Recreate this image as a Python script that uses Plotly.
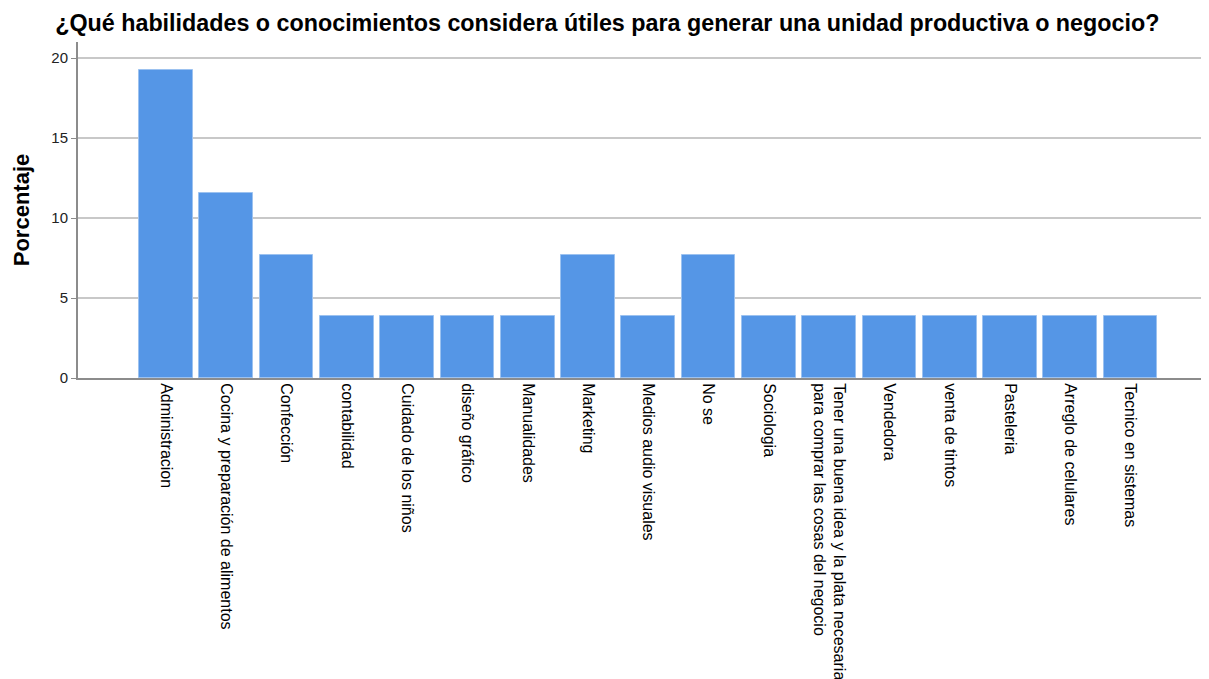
import plotly.graph_objects as go

categories = [
    "Administracion",
    "Cocina y preparación de alimentos",
    "Confección",
    "contabilidad",
    "Cuidado de los niños",
    "diseño gráfico",
    "Manualidades",
    "Marketing",
    "Medios audio visuales",
    "No se",
    "Sociologia",
    "Tener una buena idea y la plata necesaria<br>para comprar las cosas del negocio",
    "Vendedora",
    "venta de tintos",
    "Pasteleria",
    "Arreglo de celulares",
    "Tecnico en sistemas",
]
percentages = [19.23, 11.54, 7.69, 3.85, 3.85, 3.85, 3.85, 7.69, 3.85, 7.69,
               3.85, 3.85, 3.85, 3.85, 3.85, 3.85, 3.85]

fig = go.Figure()
fig.add_trace(go.Bar(
    x=list(range(len(categories))),
    y=percentages,
    width=0.89,
    marker=dict(color="#5596e6", line=dict(color="#9cc2f0", width=1)),
    hovertemplate="%{y:.2f}%<extra></extra>",
))

fig.update_layout(
    width=1210, height=671,
    margin=dict(l=70, r=0, t=34, b=301),
    plot_bgcolor="white", paper_bgcolor="white",
    font=dict(family="Liberation Sans, Arial, sans-serif", color="black"),
    title=dict(
        text="<b>¿Qué habilidades o conocimientos considera útiles para generar una unidad productiva o negocio?</b>",
        x=0.039, xanchor="left", y=0.978, yanchor="middle",
        font=dict(size=23.3, color="black"),
    ),
    showlegend=False,
    bargap=0,
)

fig.update_xaxes(
    tickmode="array",
    tickvals=list(range(len(categories))),
    ticktext=categories,
    tickangle=90,
    tickfont=dict(size=16, color="black"),
    range=[-1.46, 17.45],
    showline=True, linecolor="#8c8c8c", linewidth=2,
    showgrid=False, ticks="",
    zeroline=False,
)
fig.update_yaxes(
    title=dict(text="<b>Porcentaje</b>", font=dict(size=22, color="black"), standoff=16),
    range=[0, 21],
    tickvals=[0, 5, 10, 15, 20],
    tickfont=dict(size=15, color="#222222"),
    showline=True, linecolor="#8c8c8c", linewidth=2,
    showgrid=True, gridcolor="#c8c8c8", gridwidth=1.5,
    ticks="outside", ticklen=5, tickcolor="#8c8c8c",
    zeroline=False,
)

fig.write_html("out.html")
